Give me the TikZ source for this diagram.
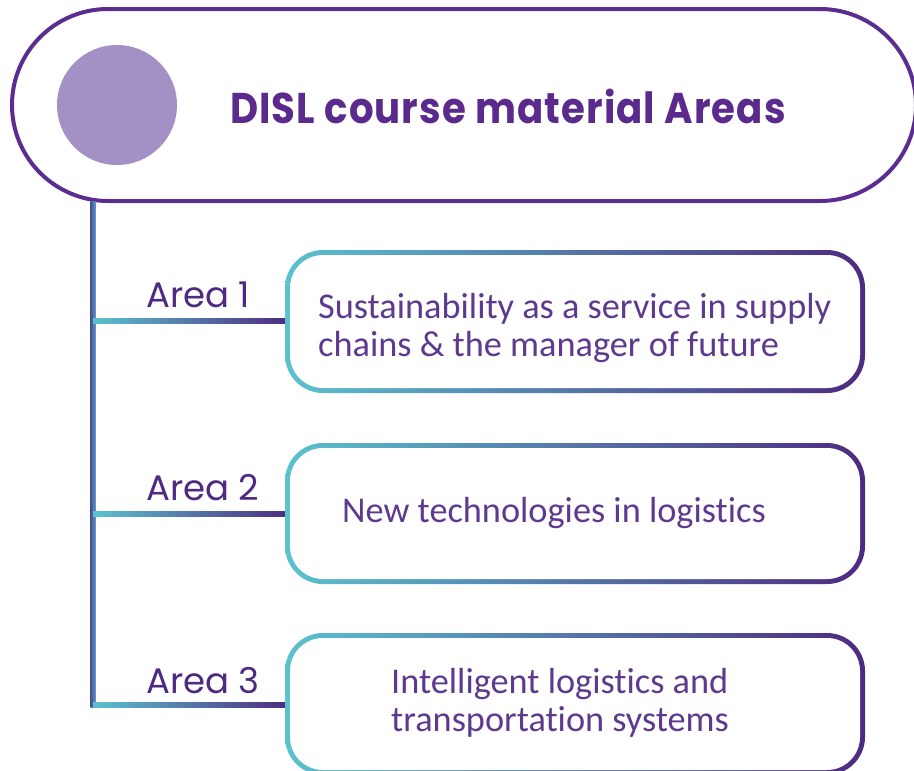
\documentclass[tikz,border=0pt]{standalone}
\usepackage{fontspec}
\setmainfont{Carlito}[Ligatures={NoCommon,NoRare}]
\newfontfamily\geo{Poppins}
\newfontfamily\geotitle{Poppins}[FakeStretch=0.9,LetterSpace=2.5]
\definecolor{hdr}{HTML}{5B2D90}
\definecolor{circ}{HTML}{A391C6}
\definecolor{txt}{HTML}{5E3A8E}
\definecolor{ttl}{HTML}{5A2A8C}
\definecolor{cy}{HTML}{5BC2CE}
\definecolor{pu}{HTML}{4E2A80}
\definecolor{vbl}{HTML}{4A4F93}
\definecolor{vcy}{HTML}{5A9CC4}
\tikzset{
  boxtext/.style={anchor=base west, inner sep=0pt, text=txt, font=\fontsize{36.3}{38}\selectfont},
  arealabel/.style={anchor=base west, inner sep=0pt, text=pu, font=\geo\fontsize{35.5}{38}\selectfont},
  titletext/.style={anchor=base, inner sep=0pt, text=ttl, font=\geotitle\bfseries\fontsize{43}{48}\selectfont},
  gradbox/.style={left color=cy, right color=pu},
}
\begin{document}
\begin{tikzpicture}[x=1pt,y=-1pt]
\useasboundingbox (0,0) rectangle (914,771);
\clip (0,0) rectangle (914,771);
% header
\draw[hdr, line width=4pt, rounded corners=96pt] (12,9) rectangle (916,201);
\fill[circ] (117,105) circle (60);
\node[titletext] (title) at (508,123) {DISL course material Areas};
% vertical trunk
\coordinate (trunktop) at (93,201);
\coordinate (trunkbot) at (93,707);
\shade[left color=vbl, right color=vcy] (90.5,201) rectangle (95.5,707);
% branches
\foreach \y/\n in {320.5/1,514/2,704.5/3}{
  \coordinate (b\n) at (93,\y);
  \shade[left color=cy, right color=pu] (93,\y-2.5) rectangle (289,\y+2.5);
}
% boxes
\foreach \t/\b/\n in {250/393/1,443/584/2,633/775/3}{
  \shade[gradbox, rounded corners=38pt] (285,\t) rectangle (865,\b);
  \fill[white, rounded corners=33pt] (290,\t+5) rectangle (860,\b-5);
}
% area labels
\node[arealabel] (a1) at (146,307) {Area 1};
\node[arealabel] (a2) at (146,500) {Area 2};
\node[arealabel] (a3) at (146,693) {Area 3};
% box texts
\node[boxtext] (t1a) at (318,318) {Sustainability as a service in supply};
\node[boxtext] (t1b) at (318,356) {chains \& the manager of future};
\node[boxtext] (t2) at (342,522) {New technologies in logistics};
\node[boxtext] (t3a) at (391,693) {Intelligent logistics and};
\node[boxtext] (t3b) at (391,731) {transportation systems};
\end{tikzpicture}
\end{document}
